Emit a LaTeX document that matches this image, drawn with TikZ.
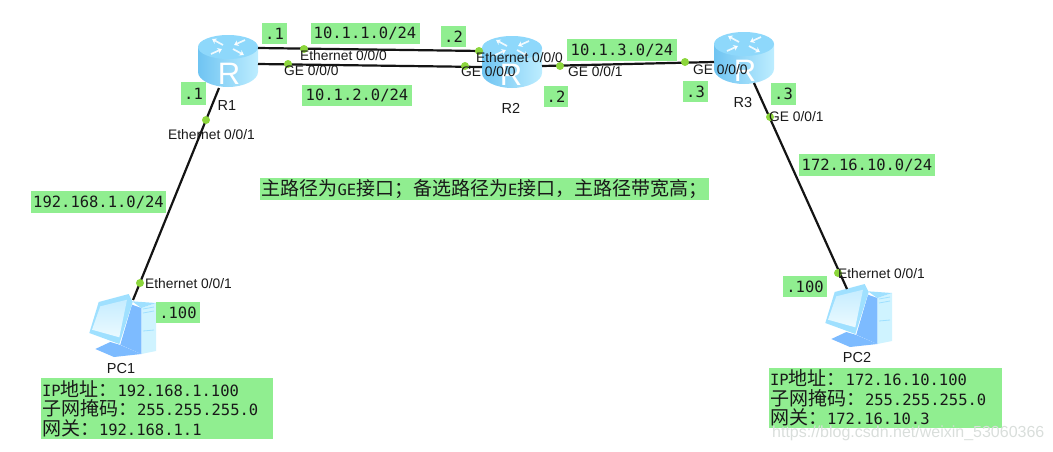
\documentclass[tikz,border=0pt]{standalone}
\usepackage{fontspec}
\usetikzlibrary{arrows.meta}
\setmainfont{Liberation Sans}
\newfontfamily\monof{DejaVu Sans Mono}
\newfontfamily\cjkf{Noto Sans CJK SC}
\newcommand{\zh}[1]{{\cjkf\fontsize{19}{19}\selectfont #1}}
\definecolor{boxgreen}{HTML}{90EE90}
\definecolor{dotgreen}{HTML}{8CD63C}
\definecolor{rtop}{HTML}{8ED8FB}
\definecolor{rleft}{HTML}{6FC4F2}
\definecolor{rmid}{HTML}{BDEDFF}
\definecolor{pcblue}{HTML}{7DBBFF}
\definecolor{pclight}{HTML}{9FE0FF}
\definecolor{pcpale}{HTML}{CFF3FF}
\definecolor{wmark}{HTML}{D9DEDB}
\tikzset{
  x=1pt,y=-1pt,
  linkline/.style={draw=black!92,line width=2.2pt},
  ifdot/.style={circle,fill=dotgreen,inner sep=0pt,minimum size=8pt},
  iflabel/.style={anchor=west,inner sep=0pt,text=black!90,font=\fontsize{13.8}{15}\selectfont},
  devlabel/.style={inner sep=0pt,text=black!90,font=\fontsize{14.5}{16}\selectfont},
  gbox/.style={fill=boxgreen,inner sep=0pt,font=\monof\fontsize{15.5}{16}\selectfont,text=black!90},
  infobox/.style={fill=boxgreen,inner sep=0pt,align=left,font=\monof\fontsize{15.5}{19.4}\selectfont,text=black!90},
  rletter/.style={inner sep=0pt,text=white,font=\fontsize{31}{31}\selectfont},
  rarrow/.style={draw=white,draw opacity=.85,line width=1.7pt,-{Stealth[length=4.5pt,width=6pt]}}
}
% router icon: x,y = centre of the top ellipse
\newcommand{\routericon}[2]{%
  \begin{scope}[shift={(#1,#2)}]
    \path[left color=rleft,right color=rmid]
      (-30,0) -- (-30,25) .. controls (-30,33) and (-16,40) .. (0,40)
      .. controls (16,40) and (30,33) .. (30,25) -- (30,0) -- cycle;
    \path[fill=rtop] (0,0) ellipse[x radius=30,y radius=12];
    \draw[rarrow] (-5,-2) -- (-16,-8);
    \draw[rarrow] (17,-7) -- (6,-2);
    \draw[rarrow] (-17,7) -- (-6,2);
    \draw[rarrow] (5,2) -- (16,8);
  \end{scope}}
% pc icon: x,y = top left of the icon
\newcommand{\pcicon}[2]{%
  \begin{scope}[shift={(#1,#2)}]
    \path[fill=pcpale] (53.3,14) -- (68,9) -- (68,57) -- (53.3,60) -- cycle;
    \path[fill=pclight] (44,7.3) -- (68,9) -- (53.3,14) -- cycle;
    \path[fill=pcblue] (44,10.7) -- (53.3,14) -- (53.3,60) -- (32.3,50.7) -- cycle;
    \path[fill=pcblue] (7.3,55) -- (22.3,48) -- (32.3,51) -- (53.3,60) -- (26,63) -- cycle;
    \path[fill=pclight] (10.7,8) -- (40.7,0) -- (44.7,8) -- (31.3,50) -- (1.3,39) -- cycle;
    \path[top color=pclight!60!white,bottom color=pcpale!40!white] (12.3,12.3) -- (39,5.7) -- (31.3,43.3) -- (4,35.7) -- cycle;
    \draw[line width=.8pt,draw=pclight] (55,15) -- (66,13) (55,19) -- (66,17) (55,37) -- (66,36);
  \end{scope}}
\begin{document}
\begin{tikzpicture}
\useasboundingbox (0,0) rectangle (1053,451);
% icons
\routericon{228}{47}
\routericon{512}{48}
\routericon{744}{44}
\pcicon{88}{294}
\pcicon{824}{284}
\node[rletter] (r1letter) at (229,74) {R};
\node[rletter] (r2letter) at (511,75) {R};
\node[rletter] (r3letter) at (745,71) {R};
% connection ends
\coordinate (r1a) at (258,48);
\coordinate (r2a) at (482,51);
\coordinate (r1b) at (258,64);
\coordinate (r2b) at (482,67);
\coordinate (r2c) at (542,66);
\coordinate (r3a) at (714,62);
\coordinate (r1c) at (219,88);
\coordinate (pc1a) at (133,300);
\coordinate (r3b) at (754,83);
\coordinate (pc2a) at (847,289);
\draw[linkline] (r1a) -- (r2a);
\draw[linkline] (r1b) -- (r2b);
\draw[linkline] (r2c) -- (r3a);
\draw[linkline] (r1c) -- (pc1a);
\draw[linkline] (r3b) -- (pc2a);
% interface dots
\node[ifdot] (d1) at (304,49) {};
\node[ifdot] (d2) at (288,64) {};
\node[ifdot] (d3) at (479,51) {};
\node[ifdot] (d4) at (465,66) {};
\node[ifdot] (d5) at (560,66) {};
\node[ifdot] (d6) at (685,62) {};
\node[ifdot] (d7) at (206,120) {};
\node[ifdot] (d8) at (140,283) {};
\node[ifdot] (d9) at (770,117) {};
\node[ifdot] (d10) at (838,273) {};
% green labels
\node[gbox,minimum width=25pt,minimum height=21pt] (a1) at (274.5,33.5) {.1};
\node[gbox,minimum width=109pt,minimum height=21pt] (n1) at (365,33.5) {10.1.1.0/24};
\node[gbox,minimum width=25pt,minimum height=21pt] (a2) at (453.5,36.5) {.2};
\node[gbox,minimum width=110pt,minimum height=21pt] (n2) at (357,95.5) {10.1.2.0/24};
\node[gbox,minimum width=25pt,minimum height=23pt] (a3) at (193.5,93.5) {.1};
\node[gbox,minimum width=110pt,minimum height=22pt] (n3) at (622,50) {10.1.3.0/24};
\node[gbox,minimum width=24pt,minimum height=21pt] (a4) at (556,96.5) {.2};
\node[gbox,minimum width=25pt,minimum height=21pt] (a5) at (695.5,91.5) {.3};
\node[gbox,minimum width=25pt,minimum height=22pt] (a6) at (783.5,94) {.3};
\node[gbox,minimum width=136pt,minimum height=22pt] (n4) at (867,165) {172.16.10.0/24};
\node[gbox,minimum width=135pt,minimum height=22pt] (n5) at (98.5,202) {192.168.1.0/24};
\node[gbox,minimum width=44pt,minimum height=21pt] (a7) at (178,312.5) {.100};
\node[gbox,minimum width=44pt,minimum height=21pt] (a8) at (805,286.5) {.100};
\node[gbox,minimum width=449pt,minimum height=22pt] (note) at (484.5,189) {\zh{主路径为}GE\zh{接口；备选路径为}E\zh{接口，主路径带宽高；}};
\node[infobox,minimum width=232pt,minimum height=61pt,text width=230pt] (info1) at (157,408.5)
  {IP\zh{地址：}192.168.1.100\\\zh{子网掩码：}255.255.255.0\\\zh{网关：}192.168.1.1};
\node[infobox,minimum width=233pt,minimum height=60pt,text width=231pt] (info2) at (885.5,398)
  {IP\zh{地址：}172.16.10.100\\\zh{子网掩码：}255.255.255.0\\\zh{网关：}172.16.10.3};
% interface labels
\node[iflabel] (l1) at (300,56) {Ethernet 0/0/0};
\node[iflabel] (l2) at (284,71) {GE 0/0/0};
\node[iflabel] (l3) at (476,58) {Ethernet 0/0/0};
\node[iflabel] (l4) at (461,72) {GE 0/0/0};
\node[iflabel] (l5) at (568,72) {GE 0/0/1};
\node[iflabel] (l6) at (693,70) {GE 0/0/0};
\node[iflabel] (l7) at (168,135) {Ethernet 0/0/1};
\node[iflabel] (l8) at (769,117) {GE 0/0/1};
\node[iflabel] (l9) at (145,284) {Ethernet 0/0/1};
\node[iflabel] (l10) at (838,274) {Ethernet 0/0/1};
% device labels
\node[devlabel] (r1) at (227,106) {R1};
\node[devlabel] (r2) at (511,108) {R2};
\node[devlabel] (r3) at (743,103) {R3};
\node[devlabel] (pc1) at (121,368) {PC1};
\node[devlabel] (pc2) at (857,358) {PC2};
\node[anchor=west,inner sep=0pt,text=wmark,font=\fontsize{16}{18}\selectfont] (wm) at (772,433) {https://blog.csdn.net/weixin\_53060366};
\end{tikzpicture}
\end{document}
